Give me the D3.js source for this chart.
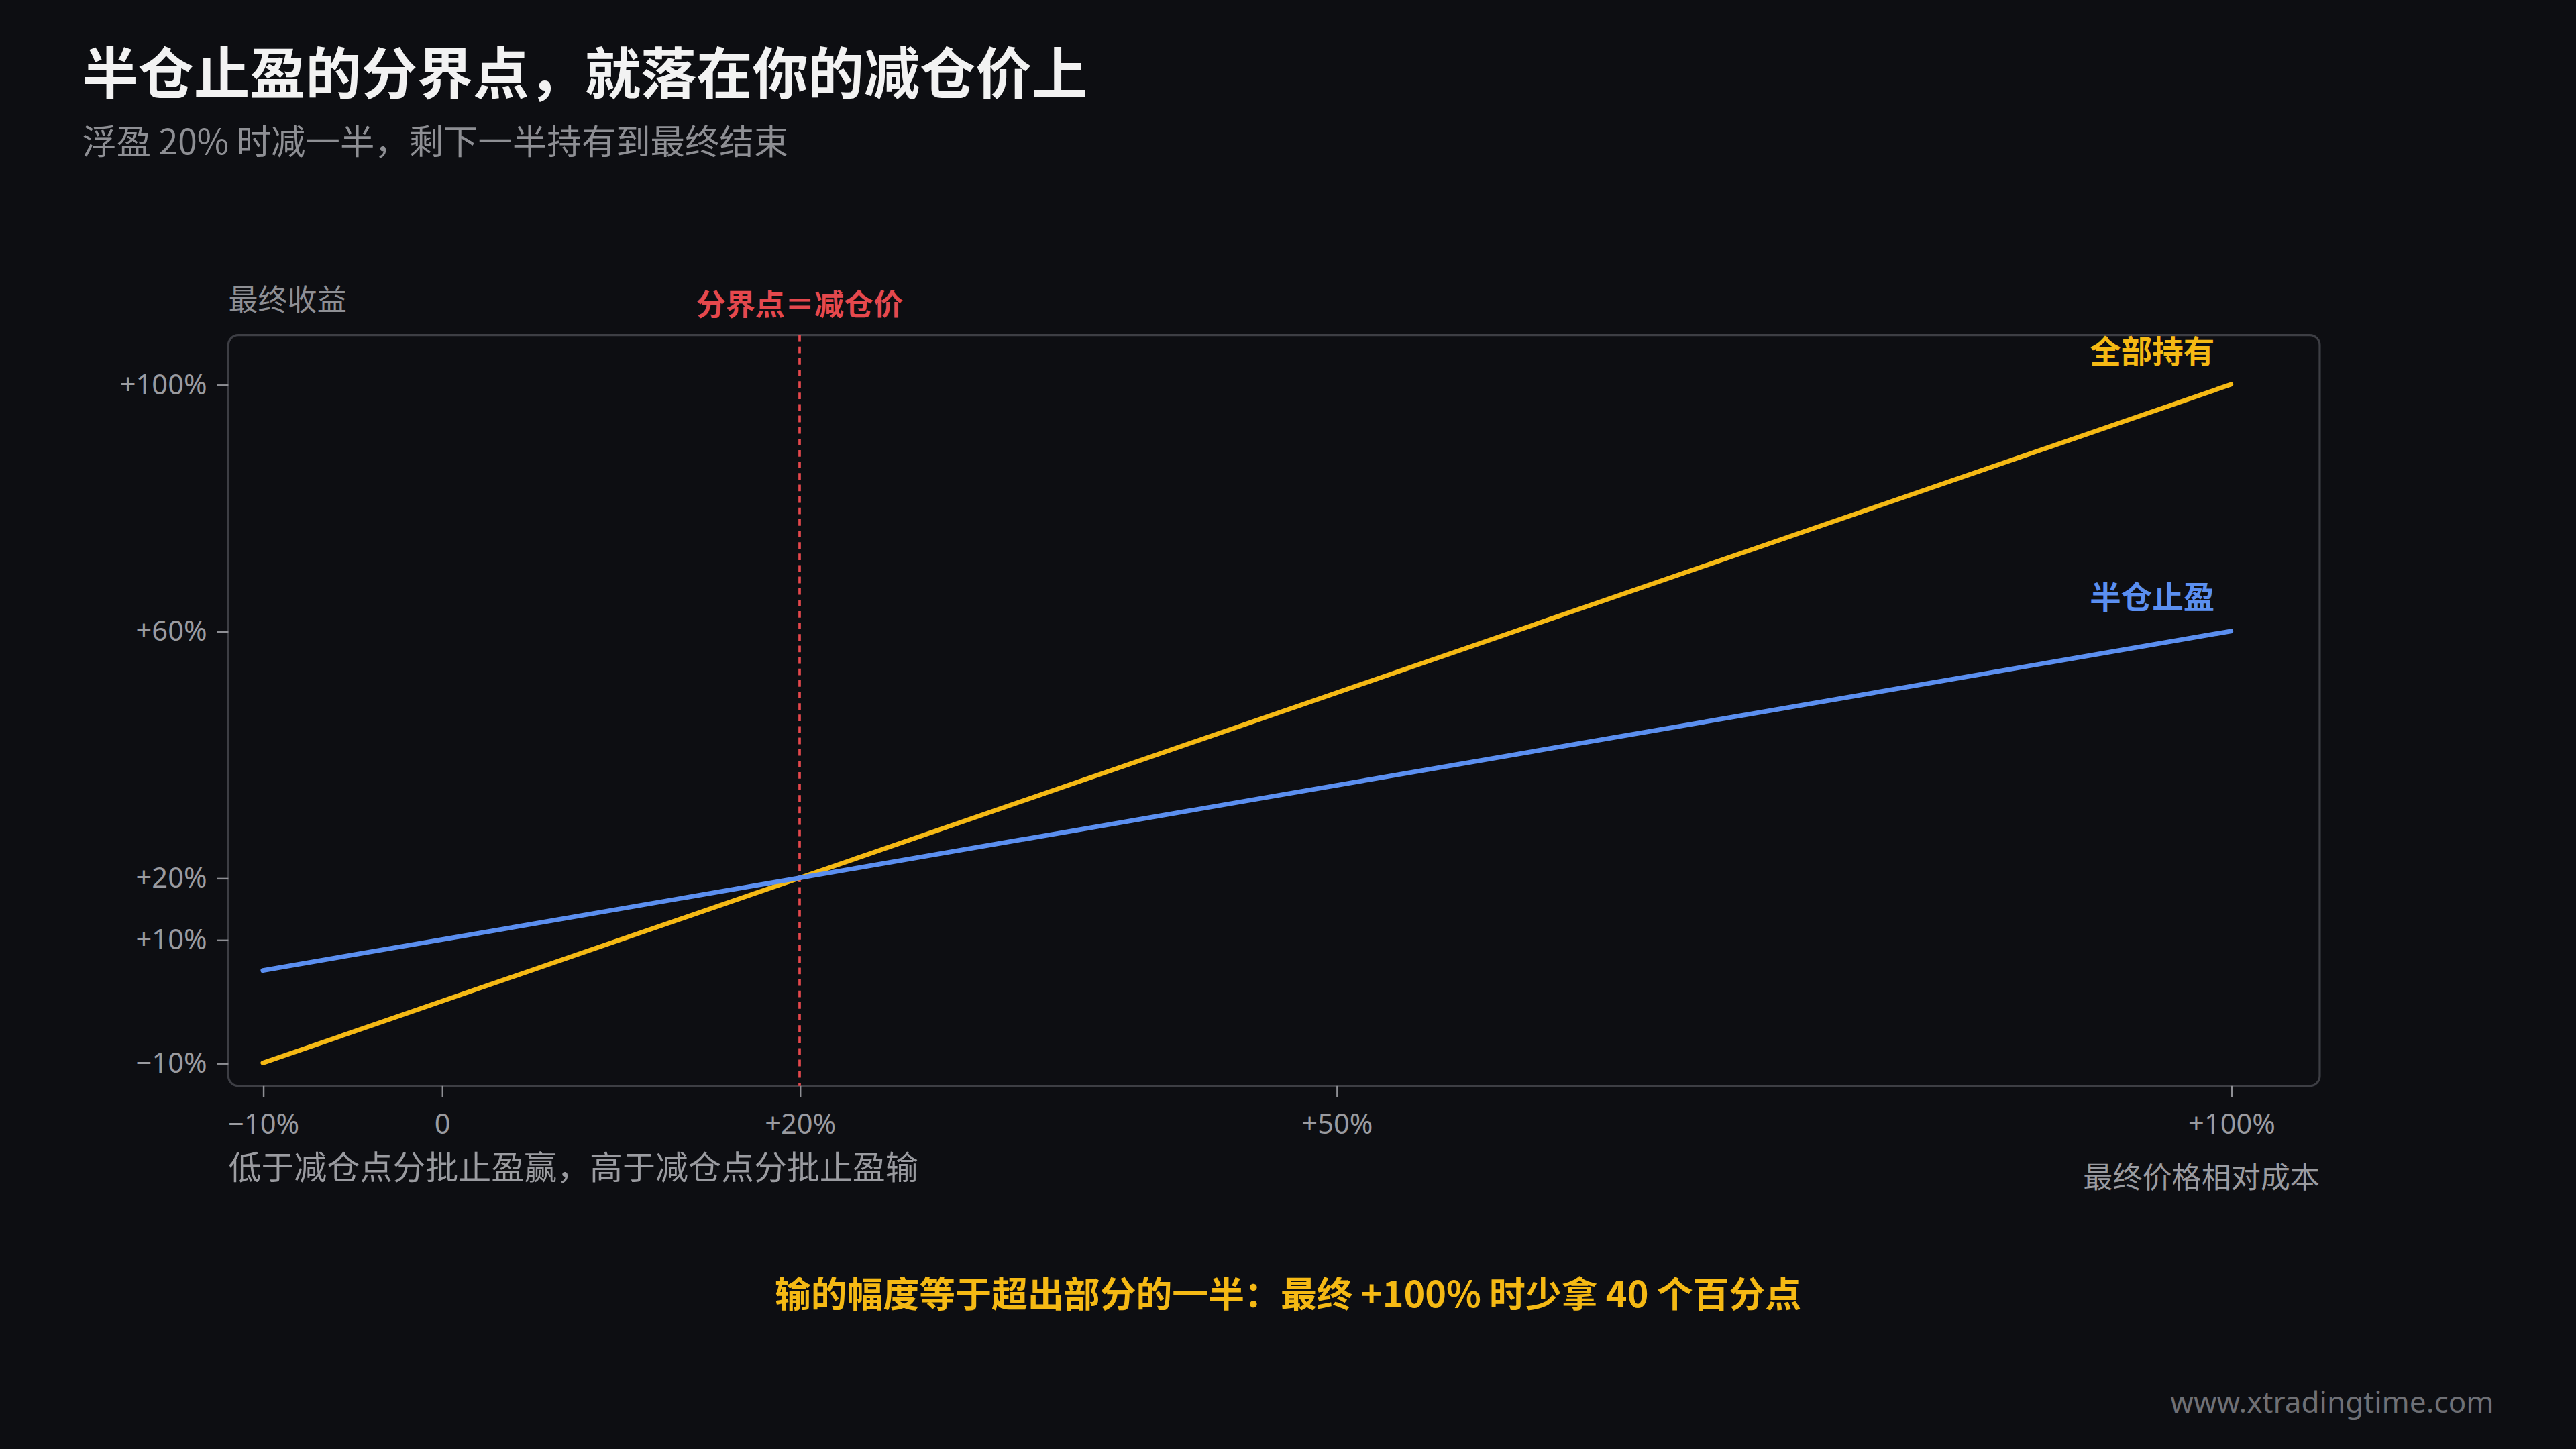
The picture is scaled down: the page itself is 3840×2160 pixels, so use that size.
<!DOCTYPE html>
<html><head><meta charset="utf-8">
<script src="https://cdn.jsdelivr.net/npm/d3@7"></script>
<style>
html,body{margin:0;padding:0;background:#0d0e12;}
svg{display:block;font-family:"Noto Sans CJK SC","Noto Sans",sans-serif;}
</style></head>
<body>
<script>
// data
const priceMoves = [-10, 20, 100]
const holdAll = [-10, 20, 100]
const halfTake = [5, 20, 60]
const xTicks = [-10, 0, 20, 50, 100]
const yTicks = [-10, 10, 20, 60, 100]
const seriesNames = ['全部持有', '半仓止盈']

const gold = '#f5b914', blue = '#5b8ff0', red = '#e5484d'

// draw in a 1568x882 design space, scaled up to 3840x2160
const svg = d3.select('body').append('svg')
  .attr('width', 3840).attr('height', 2160)
  .attr('viewBox', '0 0 1568 882')

svg.append('rect').attr('width', 1568).attr('height', 882).attr('fill', '#0d0e12')

const x = d3.scaleLinear().domain([-10, 100]).range([160, 1358])
const y = d3.scaleLinear().domain([-10, 100]).range([647, 234])

const fmt = v => v === 0 ? '0' : (v > 0 ? '+' + v + '%' : '\u2212' + Math.abs(v) + '%')

// title block
svg.append('text').attr('x', 50).attr('y', 57).attr('fill', '#f2f2f2')
  .attr('font-size', 34).attr('font-weight', 700).text('半仓止盈的分界点，就落在你的减仓价上')
svg.append('text').attr('x', 50).attr('y', 94).attr('fill', '#8e8f94')
  .attr('font-size', 21).text('浮盈 20% 时减一半，剩下一半持有到最终结束')

// frame
svg.append('rect').attr('x', 139).attr('y', 204).attr('width', 1273).attr('height', 457)
  .attr('rx', 6).attr('fill', 'none').attr('stroke', '#3d3e44').attr('stroke-width', 1.3)

// axes
const xAxis = svg.append('g').attr('transform', 'translate(0,661)')
  .call(d3.axisBottom(x).tickValues(xTicks).tickFormat(fmt).tickSize(7).tickPadding(10))
const yAxis = svg.append('g').attr('transform', 'translate(139,0)')
  .call(d3.axisLeft(y).tickValues(yTicks).tickFormat(fmt).tickSize(7).tickPadding(6))
;[xAxis, yAxis].forEach(g => {
  g.select('.domain').remove()
  g.selectAll('line').attr('stroke', '#8e8f94')
  g.selectAll('text').attr('fill', '#9a9ba0').attr('font-size', 17)
    .attr('font-family', '"Noto Sans","Noto Sans CJK SC",sans-serif')
})

svg.append('text').attr('x', 139).attr('y', 189).attr('fill', '#8e8f94').attr('font-size', 18).text('最终收益')

// break-even line
svg.append('line').attr('x1', x(20)).attr('x2', x(20)).attr('y1', 204).attr('y2', 661)
  .attr('stroke', red).attr('stroke-width', 1.5).attr('stroke-dasharray', '4,3')
svg.append('text').attr('x', x(20)).attr('y', 192).attr('text-anchor', 'middle')
  .attr('fill', red).attr('font-size', 18).attr('font-weight', 700).text('分界点＝减仓价')

// series lines
const line = d3.line().x(d => x(d[0])).y(d => y(d[1]))
;[[holdAll, gold], [halfTake, blue]].forEach(([vals, c]) => {
  svg.append('path').datum(priceMoves.map((p, i) => [p, vals[i]]))
    .attr('d', line).attr('fill', 'none').attr('stroke', c).attr('stroke-width', 2.8)
    .attr('stroke-linecap', 'round')
})

svg.append('text').attr('x', 1348).attr('y', y(100) - 13).attr('text-anchor', 'end')
  .attr('fill', gold).attr('font-size', 19).attr('font-weight', 700).text(seriesNames[0])
svg.append('text').attr('x', 1348).attr('y', y(60) - 14).attr('text-anchor', 'end')
  .attr('fill', blue).attr('font-size', 19).attr('font-weight', 700).text(seriesNames[1])

// notes
svg.append('text').attr('x', 139).attr('y', 718).attr('fill', '#9a9ba0').attr('font-size', 20)
  .text('低于减仓点分批止盈赢，高于减仓点分批止盈输')
svg.append('text').attr('x', 1412).attr('y', 723).attr('text-anchor', 'end').attr('fill', '#9a9ba0')
  .attr('font-size', 18).text('最终价格相对成本')
svg.append('text').attr('x', 784).attr('y', 796).attr('text-anchor', 'middle').attr('fill', gold)
  .attr('font-size', 22).attr('font-weight', 700).text('输的幅度等于超出部分的一半：最终 +100% 时少拿 40 个百分点')
svg.append('text').attr('x', 1518).attr('y', 860).attr('text-anchor', 'end').attr('fill', '#6f7075')
  .attr('font-size', 18).attr('font-family', '"Noto Sans",sans-serif').text('www.xtradingtime.com')
</script>
</body></html>
